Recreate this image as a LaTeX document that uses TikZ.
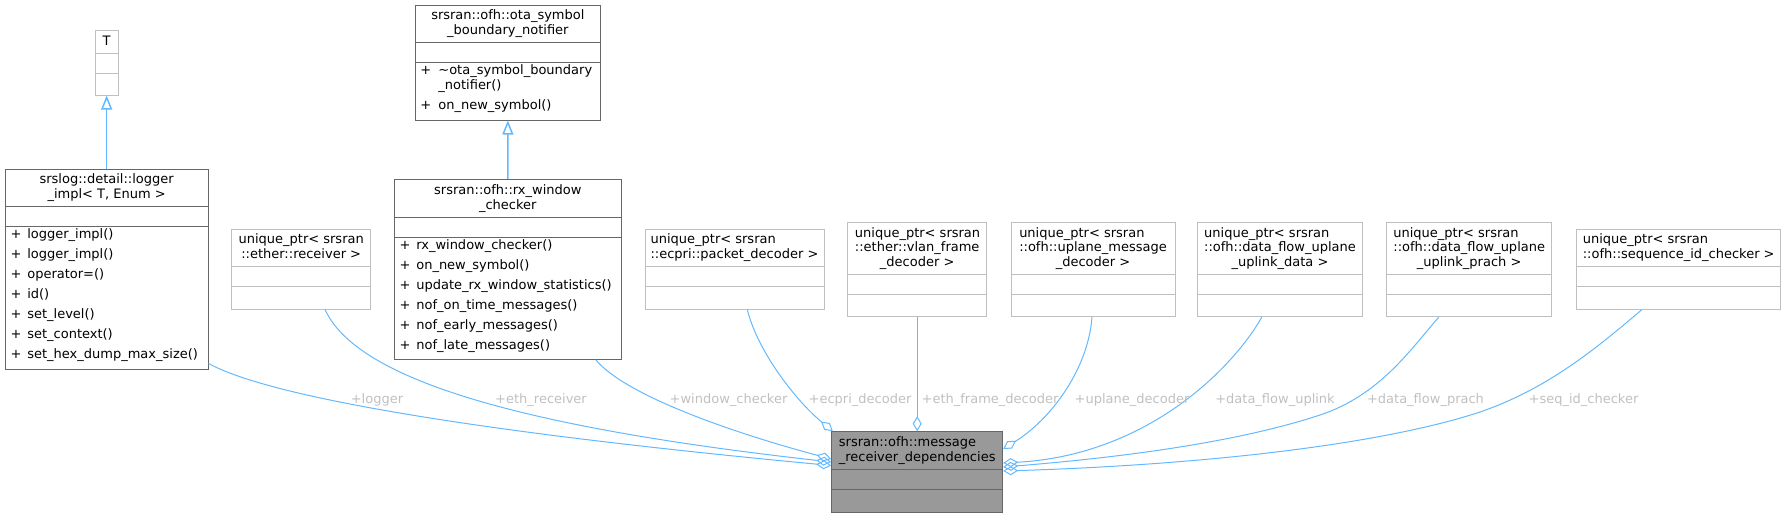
\documentclass[tikz,border=0pt]{standalone}
\usepackage{fontspec}
\setmainfont{DejaVu Sans}
\usetikzlibrary{arrows.meta,calc}
\definecolor{edgeblue}{HTML}{63B8FF}
\definecolor{boxdark}{HTML}{666666}
\definecolor{boxlight}{HTML}{BFBFBF}
\definecolor{mainfill}{HTML}{999999}
\definecolor{lblgrey}{HTML}{C0C0C0}
\newcommand{\mplus}{\makebox[16.6pt][l]{+}}
\tikzset{
  txt/.style={inner sep=0pt, text height=9.5pt, text depth=3pt, font=\fontsize{13}{15}\selectfont},
  lbl/.style={txt, text=lblgrey},
  clsbox/.style={draw=boxdark, line width=1pt, fill=white, inner sep=0pt},
  ptrbox/.style={clsbox, draw=boxlight},
  mainbox/.style={clsbox, fill=mainfill},
  inh/.style={draw=edgeblue, line width=1.5pt, -{Triangle[open,length=14pt,width=11pt]}},
  dep/.style={draw=edgeblue, line width=1pt, -{Diamond[open,length=15pt,width=9pt]}},
}
\begin{document}
\begin{tikzpicture}[x=1pt,y=-1pt]
  \useasboundingbox (0,0) rectangle (1786,517);
  \node[ptrbox, minimum width=22.7pt, minimum height=65pt] (tbox) at (106.65,62.5) {};
  \node[clsbox, minimum width=202.7pt, minimum height=199.7pt] (logger) at (106.65,269.15) {};
  \node[ptrbox, minimum width=139pt, minimum height=80pt] (ethrx) at (301.2,269) {};
  \node[clsbox, minimum width=184.3pt, minimum height=115pt] (ota) at (507.85,62.5) {};
  \node[clsbox, minimum width=227pt, minimum height=180pt] (rxwin) at (507.8,269.3) {};
  \node[ptrbox, minimum width=179pt, minimum height=79.7pt] (ecpri) at (734.5,269.15) {};
  \node[ptrbox, minimum width=139pt, minimum height=94.7pt] (vlan) at (917.2,269.35) {};
  \node[ptrbox, minimum width=164pt, minimum height=94.7pt] (uplane) at (1093,269.35) {};
  \node[ptrbox, minimum width=165.4pt, minimum height=94.7pt] (uplink) at (1280,269.35) {};
  \node[ptrbox, minimum width=165pt, minimum height=94.7pt] (prach) at (1469.2,269.35) {};
  \node[ptrbox, minimum width=204pt, minimum height=80pt] (seqid) at (1678.7,269.3) {};
  \node[mainbox, minimum width=171pt, minimum height=80.3pt] (mainrx) at (917.2,471.85) {};

  \foreach \b/\ya/\yb in {logger/206.7/226.7, ota/42.7/62.7, rxwin/217.3/237.7, mainrx/469.3/489.3}
    \draw[boxdark, line width=1pt] (\b.west |- 0,\ya) -- (\b.east |- 0,\ya) (\b.west |- 0,\yb) -- (\b.east |- 0,\yb);
  \foreach \b/\ya/\yb in {tbox/53/73, ethrx/266.7/286.7, ecpri/266.7/286.7, vlan/274.3/294.7, uplane/274.3/294.7, uplink/274.3/294.7, prach/274.3/294.7, seqid/266.7/286.7}
    \draw[boxlight, line width=1pt] (\b.west |- 0,\ya) -- (\b.east |- 0,\ya) (\b.west |- 0,\yb) -- (\b.east |- 0,\yb);

  \node[txt] (tboxt) at (106.65,42) {T};
  \node[txt] (loggert1) at (106.65,180.3) {srslog::detail::logger};
  \node[txt] (loggert2) at (106.65,195.3) {\_impl< T, Enum >};
  \node[txt] (ethrxt1) at (301.2,240) {unique\_ptr< srsran};
  \node[txt] (ethrxt2) at (301.2,255) {::ether::receiver >};
  \node[txt] (otat1) at (507.85,16.3) {srsran::ofh::ota\_symbol};
  \node[txt] (otat2) at (507.85,31.3) {\_boundary\_notifier};
  \node[txt] (rxwint1) at (507.8,191.3) {srsran::ofh::rx\_window};
  \node[txt] (rxwint2) at (507.8,206.3) {\_checker};
  \node[txt] (ecprit2) at (734.5,255.3) {::ecpri::packet\_decoder >};
  \node[txt, anchor=west] (ecprit1) at (ecprit2.west |- 0,240.7) {unique\_ptr< srsran};
  \node[txt] (vlant2) at (917.2,248.7) {::ether::vlan\_frame};
  \node[txt] (vlant3) at (917.2,263.3) {\_decoder >};
  \node[txt, anchor=west] (vlant1) at (vlant2.west |- 0,234.3) {unique\_ptr< srsran};
  \node[txt] (uplanet2) at (1093,248.7) {::ofh::uplane\_message};
  \node[txt] (uplanet3) at (1093,263.3) {\_decoder >};
  \node[txt, anchor=west] (uplanet1) at (uplanet2.west |- 0,234.3) {unique\_ptr< srsran};
  \node[txt] (uplinkt2) at (1280,248.7) {::ofh::data\_flow\_uplane};
  \node[txt] (uplinkt3) at (1280,263.3) {\_uplink\_data >};
  \node[txt, anchor=west] (uplinkt1) at (uplinkt2.west |- 0,234.3) {unique\_ptr< srsran};
  \node[txt] (pracht2) at (1469.2,248.7) {::ofh::data\_flow\_uplane};
  \node[txt] (pracht3) at (1469.2,263.3) {\_uplink\_prach >};
  \node[txt, anchor=west] (pracht1) at (pracht2.west |- 0,234.3) {unique\_ptr< srsran};
  \node[txt] (seqidt2) at (1678.7,255.3) {::ofh::sequence\_id\_checker >};
  \node[txt, anchor=west] (seqidt1) at (seqidt2.west |- 0,240.7) {unique\_ptr< srsran};
  \node[txt] (mainrxt2) at (917.2,458) {\_receiver\_dependencies};
  \node[txt, anchor=west] (mainrxt1) at (mainrxt2.west |- 0,443.7) {srsran::ofh::message};

  \foreach \m [count=\i from 0] in {logger\_impl(), logger\_impl(), operator=(), id(), set\_level(), set\_context(), set\_hex\_dump\_max\_size()}
    \node[txt, anchor=west] (loggerm\i) at (10.5,235.3+20*\i) {\mplus\m};
  \node[txt, anchor=west] (otam0) at (420.2,71.3) {\makebox[18pt][l]{+}\textasciitilde ota\_symbol\_boundary};
  \node[txt, anchor=west] (otam1) at (438.2,86.3) {\_notifier()};
  \node[txt, anchor=west] (otam2) at (420.2,106.7) {\makebox[18pt][l]{+}on\_new\_symbol()};
  \foreach \m [count=\i from 0] in {rx\_window\_checker(), on\_new\_symbol(), update\_rx\_window\_statistics(), nof\_on\_time\_messages(), nof\_early\_messages(), nof\_late\_messages()}
    \node[txt, anchor=west] (rxwinm\i) at (399.5,246.3+20*\i) {\mplus\m};

  \draw[inh] (logger.north) -- (tbox.south);
  \draw[inh] (rxwin.north) -- (ota.south);
  \draw[dep] ($(logger.south east)+(0,-6)$) .. controls (285,405) and (560,440) .. ($(mainrx.west)+(0,-6.35)$);
  \draw[dep] ($(ethrx.south)+(23.8,0)$) .. controls (355,375) and (500,425) .. ($(mainrx.west)+(0,-9.85)$);
  \draw[dep] ($(rxwin.south)+(88,0)$) .. controls (625,395) and (730,432) .. ($(mainrx.west)+(0,-12.85)$);
  \draw[dep] ($(ecpri.south)+(12.8,0)$) .. controls (757,350) and (795,400) .. ($(mainrx.north west)+(1.6,0)$);
  \draw[dep] (vlan.south) -- (mainrx.north);
  \draw[dep] ($(uplane.south)+(-1,0)$) .. controls (1088,370) and (1050,420) .. ($(mainrx.north east)+(0,17.6)$);
  \draw[dep] ($(uplink.south)+(-18.3,0)$) .. controls (1235,365) and (1150,455) .. ($(mainrx.east)+(0,-8.85)$);
  \draw[dep] ($(prach.south)+(-30.5,0)$) .. controls (1410,350) and (1380,395) .. (1320,415)
    .. controls (1250,438) and (1150,455) .. ($(mainrx.east)+(0,-4.85)$);
  \draw[dep] ($(seqid.south)+(-37,0)$) .. controls (1600,345) and (1550,388) .. (1480,412)
    .. controls (1380,445) and (1200,465) .. ($(mainrx.east)+(0,-0.85)$);

  \node[lbl] (lbllogger) at (377,400) {+logger};
  \node[lbl] (lblethrx) at (541,400) {+eth\_receiver};
  \node[lbl] (lblrxwin) at (728.5,400) {+window\_checker};
  \node[lbl] (lblecpri) at (860,400) {+ecpri\_decoder};
  \node[lbl] (lblvlan) at (990,400) {+eth\_frame\_decoder};
  \node[lbl] (lbluplane) at (1132,400) {+uplane\_decoder};
  \node[lbl] (lbluplink) at (1275,400) {+data\_flow\_uplink};
  \node[lbl] (lblprach) at (1425.5,400) {+data\_flow\_prach};
  \node[lbl] (lblseqid) at (1583.5,400) {+seq\_id\_checker};
\end{tikzpicture}
\end{document}
